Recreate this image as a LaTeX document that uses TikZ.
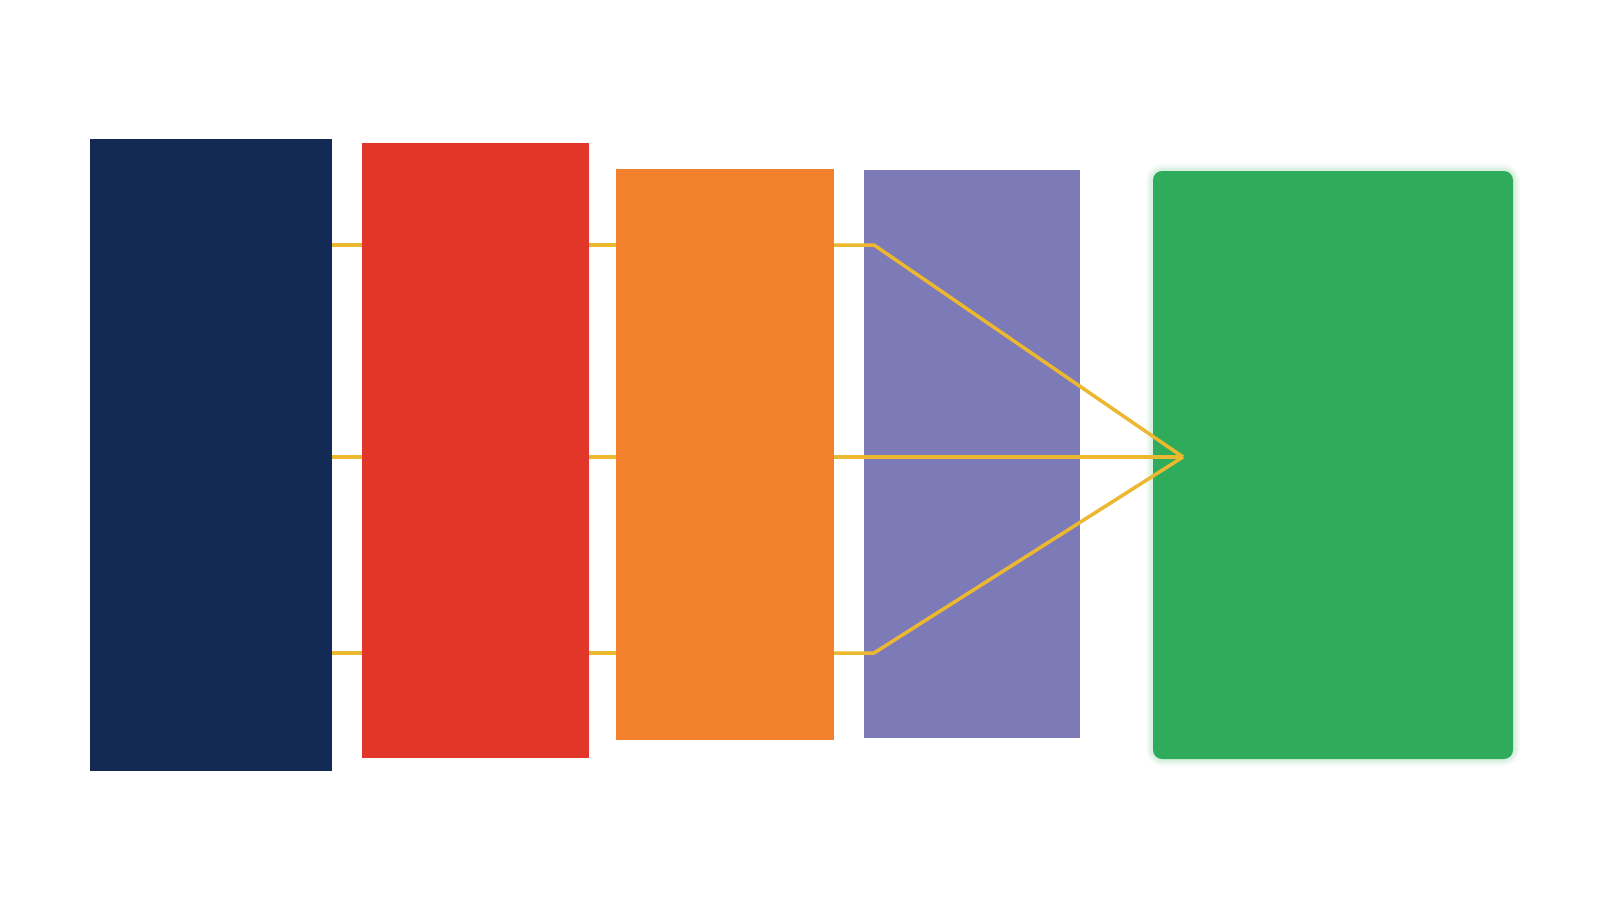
\documentclass[tikz,border=0pt]{standalone}
\begin{document}
\begin{tikzpicture}[x=1pt,y=-1pt,
  blk/.style={draw=none,inner sep=0pt,outer sep=0pt,anchor=north west},
  link/.style={draw=linkgold,line width=3.5pt,line join=round}]
\definecolor{cnavy}{HTML}{122A54}
\definecolor{cred}{HTML}{E3362B}
\definecolor{corange}{HTML}{F2802D}
\definecolor{cpurple}{HTML}{7D7AB8}
\definecolor{cgreen}{HTML}{2EAC5B}
\definecolor{linkgold}{HTML}{EBB830}
\useasboundingbox[fill=white] (0,0) rectangle (1600,900);
\node[blk,fill=cnavy,minimum width=242pt,minimum height=632pt] (navy) at (90,139) {};
\node[blk,fill=cred,minimum width=227pt,minimum height=615pt] (red) at (362,143) {};
\node[blk,fill=corange,minimum width=218pt,minimum height=571pt] (orange) at (616,169) {};
\node[blk,fill=cpurple,minimum width=216pt,minimum height=568pt] (purple) at (864,170) {};
% green with faint glow
\foreach \w/\o in {14/0.04,10/0.06,6/0.08}{
  \draw[draw=cgreen,opacity=\o,line width=\w pt,rounded corners=10pt] (1153,171) rectangle (1513,759);
}
\node[blk,fill=cgreen,minimum width=360pt,minimum height=588pt,rounded corners=9pt] (green) at (1153,171) {};
% connector points
\coordinate (bendT) at (874,245);
\coordinate (bendB) at (874,653);
\coordinate (apex) at (1183,457);
% navy -> red
\foreach \yy in {245,457,653}{
  \draw[link] (navy.east |- 0,\yy) -- (red.west |- 0,\yy);
  \draw[link] (red.east |- 0,\yy) -- (orange.west |- 0,\yy);
}
% orange -> green
\draw[link] (orange.east |- bendT) -- (bendT) -- (apex);
\draw[link] (orange.east |- apex) -- (apex);
\draw[link] (orange.east |- bendB) -- (bendB) -- (apex);
\end{tikzpicture}
\end{document}
